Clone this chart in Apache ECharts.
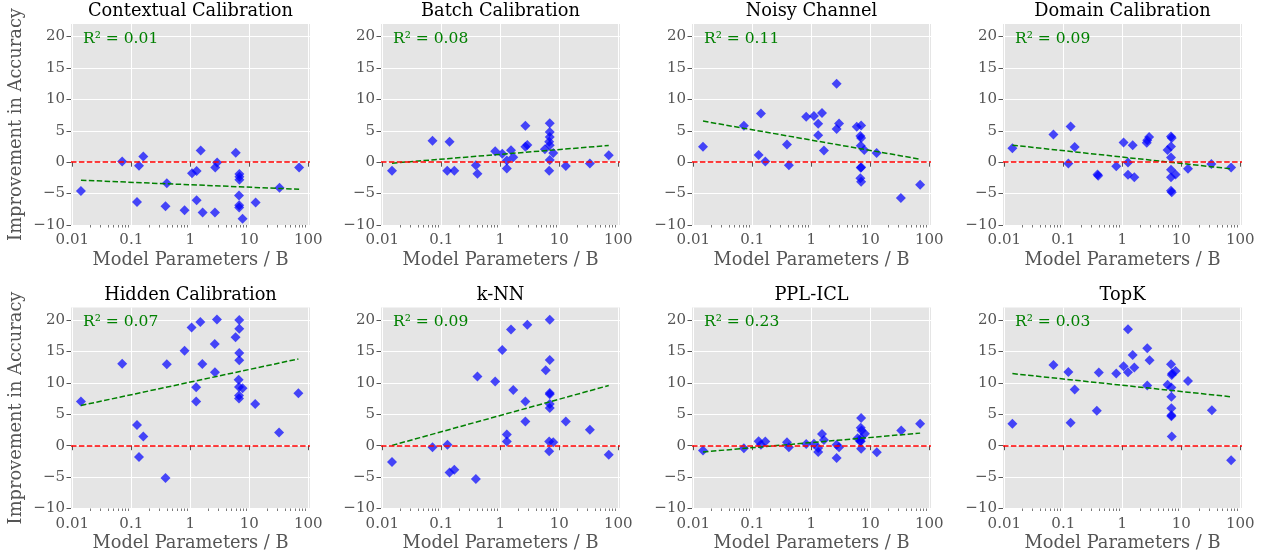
<!DOCTYPE html>
<html><head><meta charset="utf-8">
<script src="https://cdn.jsdelivr.net/npm/echarts@6/dist/echarts.min.js"></script>
<style>html,body{margin:0;padding:0;background:#fff}#c{width:1266px;height:554px}</style>
</head><body><div id="c"></div>
<script>
// ---------- data ----------
const panelTitles = ['Contextual Calibration','Batch Calibration','Noisy Channel','Domain Calibration',
                     'Hidden Calibration','k-NN','PPL-ICL','TopK'];
const r2Values = ['0.01','0.08','0.11','0.09','0.07','0.09','0.23','0.03'];
const xTickValues = [0.01, 0.1, 1, 10, 100];
const yTickValues = [-10, -5, 0, 5, 10, 15, 20];

// [model parameters (B), improvement in accuracy]
const contextualCalibration = [[0.014,-4.6],[0.07,0.1],[0.135,-0.55],[0.16,0.9],[0.125,-6.35],[0.4,-3.35],[0.38,-7.0],[0.8,-7.65],[1.07,-1.75],[1.28,-1.4],[1.28,-6.05],[1.5,1.85],[1.62,-8.0],[2.65,-0.85],[2.85,-0.05],[2.62,-8.0],[5.9,1.5],[6.8,-1.9],[6.8,-2.3],[6.8,-2.8],[6.7,-5.3],[6.75,-6.85],[6.75,-7.2],[7.7,-9.0],[12.8,-6.4],[32.5,-4.05],[70,-0.85]];
const batchCalibration = [[0.0146,-1.35],[0.071,3.4],[0.138,3.25],[0.126,-1.35],[0.166,-1.35],[0.386,-0.5],[0.41,-1.85],[0.82,1.75],[1.08,1.35],[1.29,0.25],[1.29,-1.0],[1.52,1.9],[1.66,0.8],[2.66,5.8],[2.66,2.45],[2.87,2.75],[5.7,2.05],[6.9,6.2],[6.9,4.8],[6.9,4.0],[6.75,3.25],[6.9,2.7],[6.9,0.35],[6.75,-1.35],[7.9,1.45],[12.9,-0.6],[33,-0.2],[69,1.1]];
const noisyChannel = [[0.0146,2.45],[0.072,5.8],[0.14,7.75],[0.128,1.15],[0.166,0.1],[0.387,2.8],[0.417,-0.5],[0.82,7.25],[1.11,7.35],[1.31,6.1],[1.31,4.3],[1.52,7.85],[1.64,1.85],[2.69,12.5],[2.69,5.3],[2.96,6.15],[5.9,5.65],[7.0,5.85],[6.8,4.15],[7.0,3.85],[6.9,2.6],[7.9,1.95],[7.0,-0.8],[6.9,-0.9],[6.8,-2.55],[7.0,-3.1],[12.8,1.45],[33,-5.7],[70,-3.6]];
const domainCalibration = [[0.0137,2.2],[0.068,4.4],[0.133,5.7],[0.122,-0.2],[0.156,2.4],[0.38,-1.95],[0.39,-2.15],[0.79,-0.65],[1.05,3.15],[1.25,-0.05],[1.25,-2.0],[1.5,2.7],[1.6,-2.4],[2.6,3.1],[2.65,3.5],[2.85,4.0],[5.85,1.95],[6.7,2.5],[6.7,4.1],[6.9,3.85],[6.7,0.75],[6.7,-1.2],[6.7,-2.4],[8.0,-1.95],[6.7,-4.55],[6.9,-4.8],[13,-1.05],[32.4,-0.3],[70,-0.85]];
const hiddenCalibration = [[0.014,7.05],[0.07,13.05],[0.125,3.3],[0.16,1.45],[0.135,-1.8],[0.4,12.95],[0.38,-5.15],[0.8,15.1],[1.05,18.8],[1.26,9.3],[1.26,7.05],[1.48,19.7],[1.6,13.0],[2.62,11.7],[2.6,16.2],[2.83,20.1],[5.86,17.25],[6.76,20.0],[6.76,18.6],[6.76,14.75],[6.76,13.6],[6.6,10.5],[6.7,9.35],[6.7,8.0],[6.7,7.5],[7.7,9.15],[12.6,6.65],[32,2.1],[68,8.35]];
const kNN = [[0.0146,-2.6],[0.071,-0.25],[0.127,0.15],[0.138,-4.25],[0.166,-3.85],[0.386,-5.3],[0.41,11.0],[0.82,10.2],[1.08,15.25],[1.29,1.8],[1.29,0.65],[1.52,18.5],[1.66,8.85],[2.66,3.85],[2.66,7.05],[2.87,19.25],[5.9,12.0],[6.9,20.05],[6.9,13.65],[6.9,8.4],[6.9,8.2],[6.9,6.65],[6.9,6.0],[6.75,0.65],[6.75,-0.9],[7.9,0.55],[12.9,3.85],[33,2.55],[69,-1.45]];
const pplICL = [[0.0146,-0.75],[0.072,-0.4],[0.128,0.7],[0.14,0.15],[0.166,0.65],[0.387,0.55],[0.417,-0.25],[0.82,0.25],[1.11,0.3],[1.31,-0.35],[1.31,-1.0],[1.52,1.85],[1.64,0.9],[2.69,-1.95],[2.69,0.15],[2.96,-0.25],[6.1,1.2],[7.0,4.4],[6.9,2.85],[7.1,2.4],[7.0,1.2],[6.9,0.7],[8.1,1.9],[7.0,-0.5],[6.75,0.7],[12.9,-1.05],[33.5,2.4],[70,3.5]];
const topK = [[0.0137,3.5],[0.068,12.85],[0.122,11.75],[0.133,3.65],[0.156,8.95],[0.37,5.55],[0.4,11.65],[0.79,11.5],[1.05,12.65],[1.25,18.55],[1.25,11.7],[1.5,14.45],[1.6,12.45],[2.65,15.5],[2.65,9.6],[2.9,13.6],[5.85,9.7],[6.7,12.95],[6.9,11.25],[7.0,11.5],[6.8,9.25],[6.8,7.8],[6.8,5.95],[6.8,4.85],[6.8,4.7],[8.0,11.9],[6.9,1.45],[13,10.3],[33,5.65],[70,-2.3]];

// fitted trend: value at smallest and at largest model
const trendStartY = [-2.87, -0.16, 6.54, 2.71, 6.4, 0.05, -1.0, 11.48];
const trendEndY   = [-4.31,  2.66, 0.48, -1.06, 13.81, 9.58, 2.0, 7.78];

const panelData = [contextualCalibration, batchCalibration, noisyChannel, domainCalibration,
                   hiddenCalibration, kNN, pplICL, topK];

// ---------- layout ----------
const colLeft = [71, 381, 692, 1003];
const rowTop = [24, 307.5];
const W = 239, H = 201;
const XMIN = 0.0095, XMAX = 107, YMIN = -10, YMAX = 22;
const FONT = 'DejaVu Serif';
const GREY = '#555555';
const minorTickValues = [];
[0.01, 0.1, 1, 10].forEach(d => { for (let k = 2; k <= 9; k++) minorTickValues.push(+(d * k).toPrecision(3)); });

const grids = [], xAxes = [], yAxes = [], series = [], graphics = [];
const fmtY = v => (v < 0 ? '\u2212' + Math.abs(v) : String(v));
const fmtX = v => String(+(+v).toPrecision(6));

panelData.forEach((data, i) => {
  const r = Math.floor(i / 4), c = i % 4;
  const left = colLeft[c], top = rowTop[r];
  grids.push({left: left, top: top, width: W, height: H, show: true, backgroundColor: '#E5E5E5',
              borderWidth: 0, containLabel: false, outerBoundsMode: 'none'});
  xAxes.push({
    type: 'log', gridIndex: i, min: XMIN, max: XMAX, logBase: 10, position: 'bottom',
    axisLine: {show: false},
    axisTick: {show: true, length: 4.5, lineStyle: {color: GREY, width: 1}, customValues: xTickValues},
    axisLabel: {show: true, customValues: xTickValues, formatter: fmtX, color: GREY,
                fontFamily: FONT, fontSize: 15, margin: 8},
    splitLine: {show: true, lineStyle: {color: '#ffffff', width: 1}},
    minorTick: {show: false}, minorSplitLine: {show: false}
  });
  xAxes.push({
    type: 'log', gridIndex: i, min: XMIN, max: XMAX, logBase: 10, position: 'bottom',
    axisLine: {show: false},
    axisTick: {show: true, length: 2.5, lineStyle: {color: GREY, width: 0.8}, customValues: minorTickValues},
    axisLabel: {show: false},
    splitLine: {show: false}
  });
  yAxes.push({
    type: 'value', gridIndex: i, min: YMIN, max: YMAX, interval: 5,
    axisLine: {show: false},
    axisTick: {show: true, length: 4.5, lineStyle: {color: GREY, width: 1}, customValues: yTickValues},
    axisLabel: {show: true, customValues: yTickValues, formatter: fmtY, color: GREY,
                fontFamily: FONT, fontSize: 15, margin: 6},
    splitLine: {show: true, lineStyle: {color: '#ffffff', width: 1}}
  });
  series.push({
    type: 'scatter', xAxisIndex: 2 * i, yAxisIndex: i, data: data,
    symbol: 'diamond', symbolSize: 10, silent: true, z: 2,
    itemStyle: {color: '#0000ff', opacity: 0.7, borderWidth: 0}
  });
  const xs = data.map(d => d[0]);
  const xLo = Math.min(...xs), xHi = Math.max(...xs);
  series.push({
    type: 'line', xAxisIndex: 2 * i, yAxisIndex: i, silent: true, z: 3,
    data: [[xLo, trendStartY[i]], [xHi, trendEndY[i]]],
    symbol: 'none', lineStyle: {color: '#008000', width: 1.5, type: [5.5, 2.4]},
    markLine: {silent: true, symbol: 'none', label: {show: false}, animation: false,
               lineStyle: {color: '#ff0000', width: 1.5, type: [5.5, 2.4]},
               data: [{yAxis: 0}]}
  });
  graphics.push({type: 'text', x: left + W / 2, y: top - 12.4, z: 10,
    style: {text: panelTitles[i], font: '17.8px "' + FONT + '"', fill: '#000', align: 'center', verticalAlign: 'middle'}});
  graphics.push({type: 'text', x: left + 12, y: top + 14.9, z: 10,
    style: {text: 'R\u00b2 = ' + r2Values[i], font: '15.5px "' + FONT + '"', fill: '#008000', align: 'left', verticalAlign: 'middle'}});
  graphics.push({type: 'text', x: left + W / 2, y: top + 236, z: 10,
    style: {text: 'Model Parameters / B', font: '17.8px "' + FONT + '"', fill: GREY, align: 'center', verticalAlign: 'middle'}});
  if (c === 0) {
    graphics.push({type: 'text', x: 16.5, y: top + H / 2, rotation: Math.PI / 2, z: 10,
      style: {text: 'Improvement in Accuracy', font: '17.8px "' + FONT + '"', fill: GREY, align: 'center', verticalAlign: 'middle'}});
  }
});

const chart = echarts.init(document.getElementById('c'), null, {renderer: 'canvas'});
chart.setOption({
  animation: false,
  backgroundColor: '#ffffff',
  grid: grids, xAxis: xAxes, yAxis: yAxes, series: series,
  graphic: {elements: graphics}
});
</script></body></html>
